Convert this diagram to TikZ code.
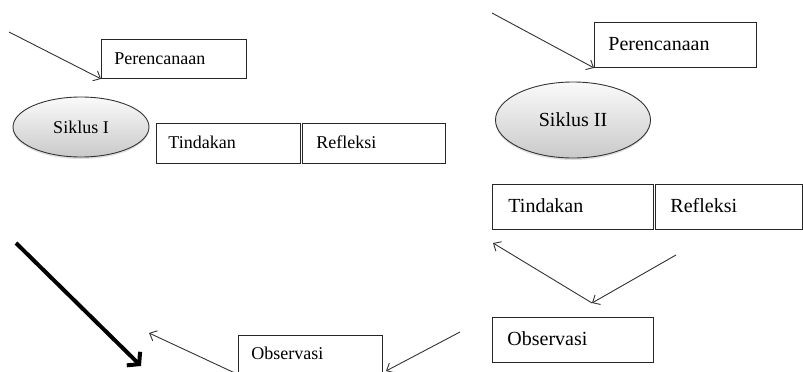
\documentclass[tikz,border=0pt]{standalone}
\usepackage{fontspec}
\setmainfont{Liberation Serif}
\usetikzlibrary{arrows.meta,shapes.geometric,shadows}
\tikzset{
  boxa/.style={draw=black!85, line width=0.9pt, rectangle, anchor=north west, align=left, inner ysep=0pt,
     font=\fontsize{18}{20}\selectfont},
  boxb/.style={boxa, font=\fontsize{20}{22}\selectfont},
  cyc/.style={ellipse, draw=black!80, line width=0.9pt, top color=gray!4, bottom color=gray!42,
     drop shadow={shadow xshift=0pt, shadow yshift=-2pt, opacity=0.25}},
  arr/.style={draw=black!80, line width=0.9pt, -{Straight Barb[length=6pt,width=11pt,line width=0.9pt]}},
  bigarr/.style={draw=black, line width=4pt, -{Straight Barb[length=8pt,width=19pt]}}
}
\begin{document}
\begin{tikzpicture}[x=1pt,y=-1pt]
\path[use as bounding box, clip] (0,0) rectangle (803,372);
% Cycle I
\node[boxa, minimum height=39pt, text width=119pt, inner xsep=13pt] (p1) at (101,39) {\raisebox{1pt}{Perencanaan}};
\node[cyc, minimum width=136pt, minimum height=60pt, font=\fontsize{18}{20}\selectfont] (s1) at (81,127) {Siklus I};
\node[boxa, minimum height=40pt, text width=120pt, inner xsep=12pt] (t1) at (156,123) {\raisebox{3pt}{Tindakan}};
\node[boxa, minimum height=40pt, text width=115pt, inner xsep=14pt] (r1) at (302,123) {\raisebox{3pt}{Refleksi}};
\node[boxa, minimum height=40pt, text width=118pt, inner xsep=13pt, anchor=north west] (o1) at (238,335) {\raisebox{5pt}{Observasi}};
% Cycle II
\node[boxb, minimum height=45pt, text width=134pt, inner xsep=14pt] (p2) at (594,22) {\raisebox{2pt}{Perencanaan}};
\node[cyc, minimum width=155pt, minimum height=76pt, font=\fontsize{20}{22}\selectfont] (s2) at (573,120) {Siklus II};
\node[boxb, minimum height=45pt, text width=129pt, inner xsep=16pt] (t2) at (492,184) {\raisebox{3pt}{Tindakan}};
\node[boxb, minimum height=45pt, text width=117pt, inner xsep=15pt] (r2) at (655,184) {\raisebox{3pt}{Refleksi}};
\node[boxb, minimum height=45pt, text width=131pt, inner xsep=15pt] (o2) at (492,317) {\raisebox{3pt}{Observasi}};
% arrow end points
\coordinate (a1s) at (9,32);
\coordinate (a2s) at (492,13);
\coordinate (a3s) at (676,255);
\coordinate (a3e) at (592,303);
\coordinate (a4e) at (493,243);
\coordinate (a5s) at (460,332);
\coordinate (a5e) at (386,371);
\coordinate (a6s) at (237,374);
\coordinate (a6e) at (149,333);
\coordinate (bs) at (16,243);
\coordinate (be) at (141,366);
% arrows
\draw[arr] (a1s) -- (p1.south west);
\draw[arr] (a2s) -- (p2.south west);
\draw[arr] (a3s) -- (a3e);
\draw[arr] (a3e) -- (a4e);
\draw[arr] (a5s) -- (a5e);
\draw[arr] (a6s) -- (a6e);
\draw[bigarr] (bs) -- (be);
\end{tikzpicture}
\end{document}
